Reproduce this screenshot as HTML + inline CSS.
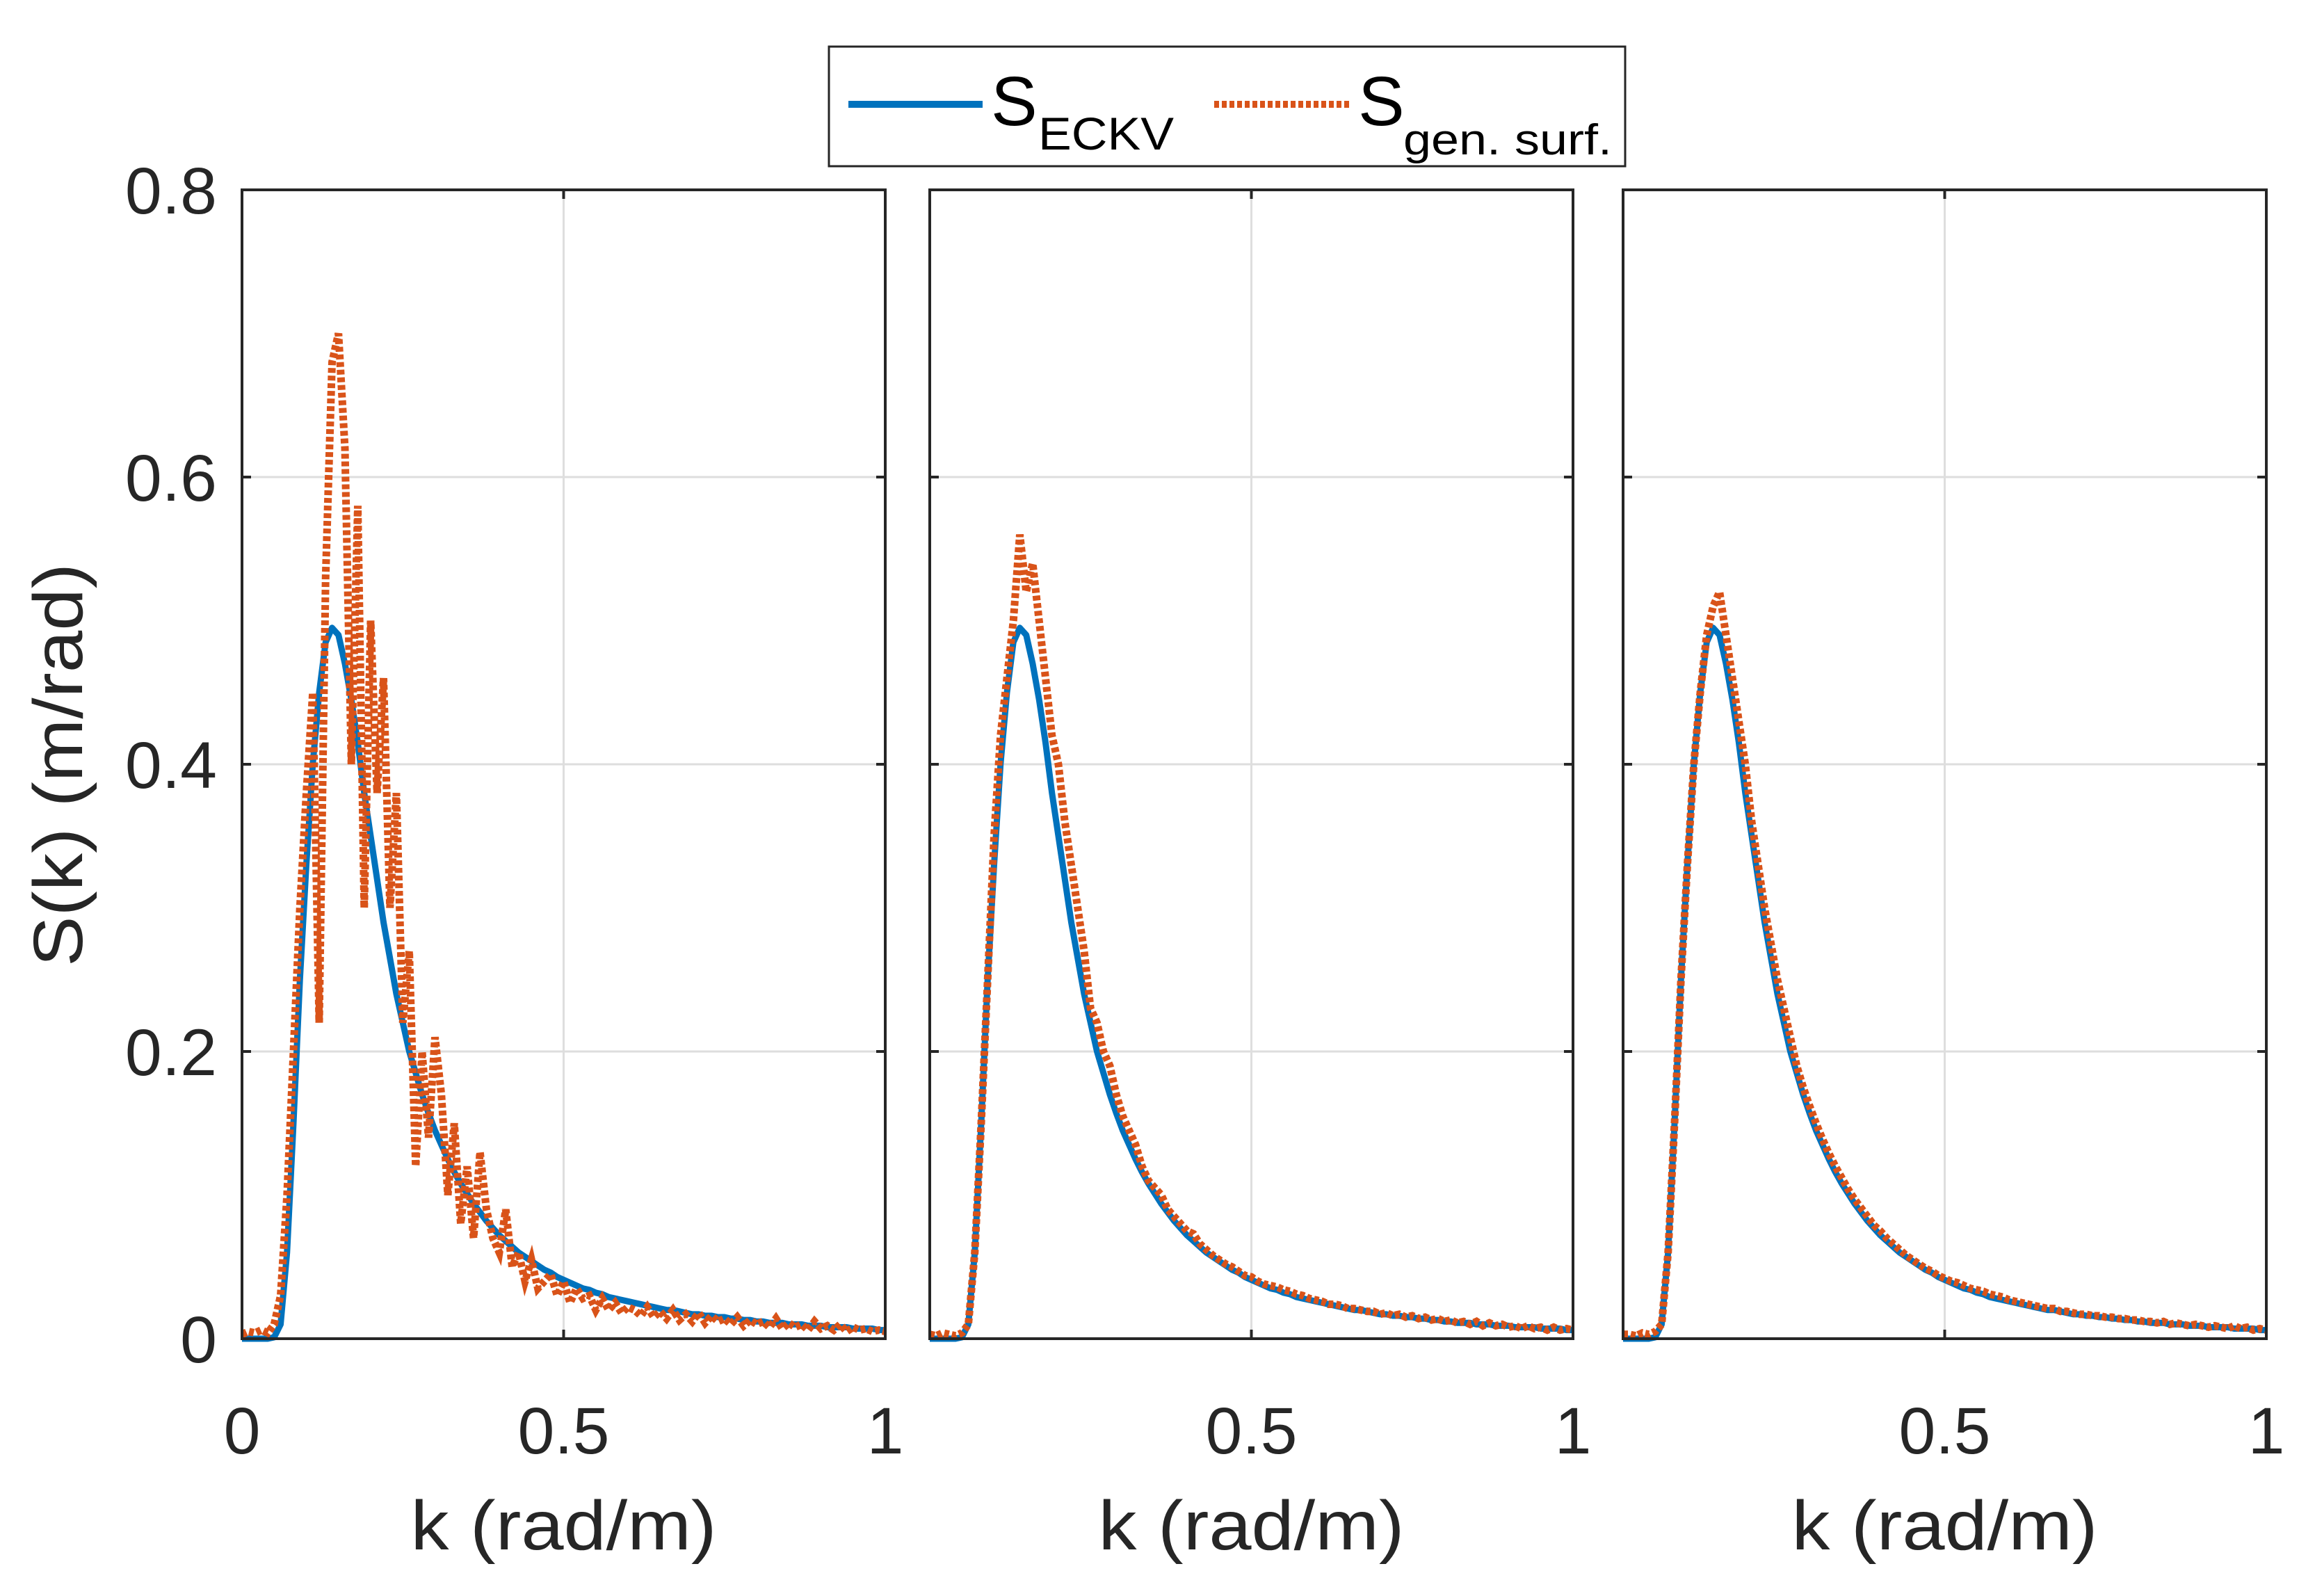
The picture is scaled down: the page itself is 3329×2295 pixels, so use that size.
<!DOCTYPE html>
<html><head><meta charset="utf-8"><style>
html,body{margin:0;padding:0;background:#fff;}
svg{display:block;font-family:"Liberation Sans",Arial,sans-serif;}
</style></head><body>
<svg id="chart" width="3329" height="2295" viewBox="0 0 3329 2295" xmlns="http://www.w3.org/2000/svg">
<rect width="3329" height="2295" fill="#fff"/>
<g id="plots"></g>
<g>
<rect x="1192" y="67" width="1145" height="172" fill="#fff" stroke="#262626" stroke-width="3"/>
<line x1="1220" y1="150" x2="1413" y2="150" stroke="#0072BD" stroke-width="10"/>
<text x="1425" y="180" font-size="100" fill="#000">S</text>
<text x="1493" y="215" font-size="66" fill="#000" textLength="195" lengthAdjust="spacingAndGlyphs">ECKV</text>
<line x1="1746" y1="150" x2="1942" y2="150" stroke="#D95319" stroke-width="10" stroke-dasharray="7 4"/>
<text x="1953" y="180" font-size="100" fill="#000">S</text>
<text x="2018" y="222" font-size="62" fill="#000" textLength="300" lengthAdjust="spacingAndGlyphs">gen. surf.</text>
</g>
<text transform="translate(118,1100) rotate(-90)" text-anchor="middle" font-size="100" fill="#262626" textLength="580" lengthAdjust="spacingAndGlyphs">S(k) (m/rad)</text>
</svg>
<script>
const kValues = [];
for (let i = 0; i <= 100; i++) kValues.push(i / 100);
const eckv = [0,0,0,0,0,0.001,0.01,0.06,0.15,0.25,0.33,0.40,0.45,0.485,0.495,0.49,0.47,0.445,0.415,0.38,0.35,0.32,0.29,0.265,0.24,0.22,0.20,0.185,0.17,0.157,0.145,0.135,0.125,0.116,0.108,0.101,0.094,0.088,0.082,0.077,0.072,0.068,0.064,0.060,0.057,0.054,0.051,0.048,0.046,0.043,0.041,0.039,0.037,0.035,0.034,0.032,0.031,0.029,0.028,0.027,0.026,0.025,0.024,0.023,0.022,0.021,0.020,0.020,0.019,0.018,0.017,0.017,0.016,0.016,0.015,0.015,0.014,0.014,0.013,0.013,0.012,0.012,0.011,0.011,0.011,0.010,0.010,0.010,0.009,0.009,0.009,0.008,0.008,0.008,0.008,0.007,0.007,0.007,0.007,0.006,0.006];
const genSurf1 = [0.003,0.005,0.004,0.006,0.004,0.01,0.03,0.10,0.20,0.30,0.38,0.45,0.22,0.53,0.68,0.70,0.62,0.40,0.58,0.30,0.50,0.38,0.46,0.30,0.38,0.22,0.27,0.12,0.20,0.14,0.21,0.17,0.10,0.15,0.08,0.12,0.07,0.13,0.09,0.07,0.06,0.09,0.05,0.06,0.04,0.055,0.035,0.04,0.045,0.03,0.04,0.025,0.035,0.028,0.03,0.02,0.028,0.02,0.025,0.018,0.022,0.02,0.016,0.022,0.015,0.019,0.014,0.02,0.013,0.017,0.012,0.018,0.011,0.016,0.012,0.014,0.01,0.015,0.009,0.013,0.01,0.012,0.008,0.014,0.007,0.011,0.008,0.01,0.006,0.012,0.007,0.009,0.006,0.01,0.005,0.008,0.006,0.007,0.005,0.006,0.005];
const genSurf2 = [0.003,0.002,0.004,0.003,0.002,0.004,0.01,0.06,0.15,0.25,0.35,0.42,0.46,0.50,0.56,0.52,0.54,0.50,0.46,0.42,0.40,0.36,0.33,0.30,0.27,0.23,0.22,0.20,0.19,0.17,0.155,0.145,0.135,0.12,0.11,0.105,0.10,0.09,0.085,0.08,0.075,0.073,0.066,0.062,0.058,0.055,0.052,0.05,0.047,0.044,0.043,0.040,0.038,0.037,0.036,0.034,0.033,0.031,0.030,0.028,0.027,0.026,0.024,0.024,0.023,0.021,0.021,0.020,0.019,0.019,0.017,0.018,0.016,0.017,0.015,0.016,0.014,0.015,0.013,0.014,0.012,0.013,0.011,0.012,0.010,0.012,0.009,0.011,0.009,0.010,0.008,0.009,0.007,0.009,0.007,0.008,0.006,0.008,0.006,0.007,0.006];
const genSurf3 = [0.003,0.003,0.002,0.004,0.003,0.005,0.01,0.06,0.15,0.25,0.33,0.40,0.45,0.49,0.51,0.52,0.49,0.46,0.43,0.40,0.36,0.33,0.30,0.275,0.25,0.23,0.21,0.19,0.175,0.162,0.15,0.139,0.129,0.12,0.112,0.104,0.097,0.091,0.085,0.079,0.075,0.07,0.066,0.062,0.058,0.055,0.052,0.049,0.047,0.044,0.042,0.040,0.039,0.037,0.035,0.034,0.033,0.031,0.030,0.029,0.027,0.026,0.025,0.024,0.023,0.022,0.021,0.021,0.019,0.019,0.018,0.017,0.017,0.016,0.016,0.015,0.015,0.014,0.014,0.013,0.013,0.012,0.012,0.011,0.012,0.010,0.011,0.010,0.009,0.010,0.009,0.008,0.009,0.008,0.007,0.009,0.007,0.008,0.006,0.007,0.006];
const xTicks = [0, 0.5, 1];
const xTickLabels = ["0", "0.5", "1"];
const yTicks = [0, 0.2, 0.4, 0.6, 0.8];
const yTickLabels = ["0", "0.2", "0.4", "0.6", "0.8"];
const panelSeries = [genSurf1, genSurf2, genSurf3];

const NS = "http://www.w3.org/2000/svg";
const plots = document.getElementById('plots');
const lefts = [348, 1337, 2334];
const W = 925, TOP = 273, BOT = 1925;
function mk(tag, attrs, parent) {
  const e = document.createElementNS(NS, tag);
  for (const k in attrs) e.setAttribute(k, attrs[k]);
  parent.appendChild(e);
  return e;
}
lefts.forEach((L, p) => {
  const xs = v => L + v * W;
  const ys = v => BOT - (v / 0.8) * (BOT - TOP);
  const g = mk('g', {}, plots);
  
  
  xTicks.forEach(t => {
    if (t > 0 && t < 1) {
      const l = mk('line', {x1: xs(t), x2: xs(t), y1: TOP, y2: BOT, stroke: '#dedede', 'stroke-width': 3}, g);
      
      
    }
  });
  yTicks.forEach(t => {
    if (t > 0 && t < 0.8) {
      const l = mk('line', {x1: L, x2: L + W, y1: ys(t), y2: ys(t), stroke: '#dedede', 'stroke-width': 3}, g);
      
      
    }
  });
  const bp = kValues.map((k, i) => xs(k) + ',' + ys(eckv[i])).join(' ');
  const b = mk('polyline', {points: bp, fill: 'none', stroke: '#0072BD', 'stroke-width': 9, 'stroke-linejoin': 'round'}, g);
  
  
  const s = panelSeries[p];
  const op = kValues.map((k, i) => xs(k) + ',' + ys(s[i])).join(' ');
  const o = mk('polyline', {points: op, fill: 'none', stroke: '#D95319', 'stroke-width': 11, 'stroke-dasharray': '7 4'}, g);
  
  
  const r = mk('rect', {x: L, y: TOP, width: W, height: BOT - TOP, fill: 'none', stroke: '#262626', 'stroke-width': 4}, g);
  
  
  yTicks.forEach((t, i) => {
    mk('line', {x1: L, x2: L + 13, y1: ys(t), y2: ys(t), stroke: '#262626', 'stroke-width': 4}, g);
    mk('line', {x1: L + W - 13, x2: L + W, y1: ys(t), y2: ys(t), stroke: '#262626', 'stroke-width': 4}, g);
    if (p === 0) {
      const tx = mk('text', {x: 312, y: ys(t) + 34, 'text-anchor': 'end', 'font-size': 95, fill: '#262626'}, g);
      
      
      tx.textContent = yTickLabels[i];
    }
  });
  xTicks.forEach((t, i) => {
    mk('line', {x1: xs(t), x2: xs(t), y1: BOT, y2: BOT - 13, stroke: '#262626', 'stroke-width': 4}, g);
    mk('line', {x1: xs(t), x2: xs(t), y1: TOP, y2: TOP + 13, stroke: '#262626', 'stroke-width': 4}, g);
    if (p > 0 && t === 0) return;
    const tx = mk('text', {x: xs(t), y: 2090, 'text-anchor': 'middle', 'font-size': 95, fill: '#262626'}, g);
    
    
    tx.textContent = xTickLabels[i];
  });
  const xl = mk('text', {x: L + W / 2, y: 2228, 'text-anchor': 'middle', 'font-size': 100, fill: '#262626', textLength: 440, lengthAdjust: 'spacingAndGlyphs'}, g);
  
  
  xl.textContent = 'k (rad/m)';
});
</script>
</body></html>
